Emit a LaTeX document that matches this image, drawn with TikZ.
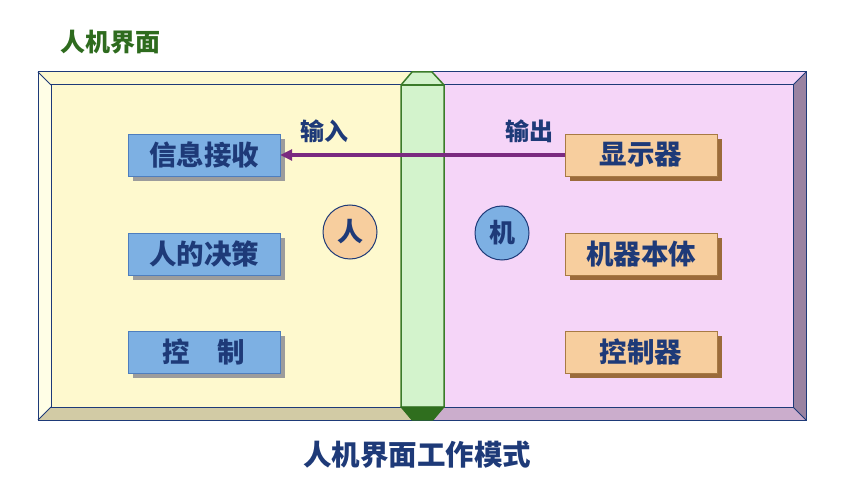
\documentclass[tikz,border=0pt]{standalone}
\usepackage{fontspec}
\newfontfamily\cjk{Noto Sans CJK SC}
\usetikzlibrary{arrows.meta}
\usetikzlibrary{shadows}

\definecolor{navy}{HTML}{1E3A78}
\definecolor{facey}{HTML}{FEF9CE}
\definecolor{facep}{HTML}{F5D5F8}
\definecolor{bevy}{HTML}{D2CBA5}
\definecolor{bevp}{HTML}{CBADCC}
\definecolor{bevr}{HTML}{9A83A2}
\definecolor{bevl}{HTML}{FFFEE6}
\definecolor{barfill}{HTML}{D3F3CC}
\definecolor{barline}{HTML}{3B7B2A}
\definecolor{bardark}{HTML}{2F6E1E}
\definecolor{cblue}{HTML}{7DB0E3}
\definecolor{cblueline}{HTML}{4E7EBE}
\definecolor{corange}{HTML}{F7CE9E}
\definecolor{corangeline}{HTML}{A87A44}
\definecolor{cbrown}{HTML}{9B6B3B}
\definecolor{cgray}{HTML}{9C9C9C}
\definecolor{cpurple}{HTML}{7A2A80}
\definecolor{tgreen}{HTML}{2E6B1E}

\tikzset{
  frameline/.style={draw=navy, line width=1pt},
  bluebox/.style={draw=cblueline, fill=cblue, text=navy, minimum width=152pt,
    minimum height=42pt, inner sep=0pt, font=\cjk\bfseries\fontsize{27.5}{30}\selectfont,
    drop shadow={shadow xshift=5pt, shadow yshift=-5pt, fill=cgray, opacity=1}},
  orangebox/.style={bluebox, draw=corangeline, fill=corange,
    drop shadow={shadow xshift=5pt, shadow yshift=-5pt, fill=cbrown, opacity=1}},
  circ/.style={circle, draw=navy, line width=1pt, minimum size=54pt, inner sep=0pt,
    text=navy, font=\cjk\bfseries\fontsize{26}{28}\selectfont},
  lbl/.style={text=navy, font=\cjk\bfseries\fontsize{24}{26}\selectfont},
  flow/.style={draw=cpurple, line width=4pt, -{Triangle[length=12pt,width=11pt]}}
}

\begin{document}
\begin{tikzpicture}[x=1pt,y=-1pt]
\useasboundingbox (0,0) rectangle (846,478);
% frame with bevels
\fill[facey] (38,72) rectangle (422,420);
\fill[facep] (422,72) rectangle (806,420);
\fill[bevy] (38,420) -- (51,407) -- (422,407) -- (422,420) -- cycle;
\fill[bevp] (422,420) -- (422,407) -- (793,407) -- (806,420) -- cycle;
\fill[bevr] (806,72) -- (793,85) -- (793,407) -- (806,420) -- cycle;
\fill[bevl] (38,72) -- (51,85) -- (51,407) -- (38,420) -- cycle;
\draw[frameline] (38,72) rectangle (806,420);
\draw[frameline] (51,85) rectangle (793,407);
\draw[frameline] (38,72) -- (51,85) (806,72) -- (793,85) (38,420) -- (51,407) (806,420) -- (793,407);
% green bar
\filldraw[fill=barfill, draw=barline, line width=1.5pt] (412,72) -- (432,72) -- (444,85) -- (444,407) -- (401,407) -- (401,85) -- cycle;
\draw[draw=barline, line width=1.5pt] (401,85) -- (444,85);
\filldraw[fill=bardark, draw=bardark, line width=1pt] (401,407) -- (444,407) -- (433,420) -- (412,420) -- cycle;
% boxes
\node[bluebox] (xinxi) at (204,155) {信息接收};
\node[bluebox] (juece) at (204,254) {人的决策};
\node[bluebox] (kongzhi) at (204,352) {控\hspace{1em}制};
\node[orangebox] (xianshi) at (641,155) {显示器};
\node[orangebox] (benti) at (641,254) {机器本体};
\node[orangebox] (kzq) at (641,352) {控制器};
\node[circ, fill=corange] (ren) at (350,232) {人};
\node[circ, fill=cblue] (ji) at (502,233) {机};
\draw[flow] (xianshi) -- (xinxi);
\node[lbl] (shuru) at (324,131) {输入};
\node[lbl] (shuchu) at (529,131) {输出};
% titles
\node[text=tgreen, font=\cjk\bfseries\fontsize{25}{28}\selectfont] (biaoti) at (110,42) {人机界面};
\node[text=navy, font=\cjk\bfseries\fontsize{28.5}{32}\selectfont] (moshi) at (417,455) {人机界面工作模式};
\end{tikzpicture}
\end{document}
